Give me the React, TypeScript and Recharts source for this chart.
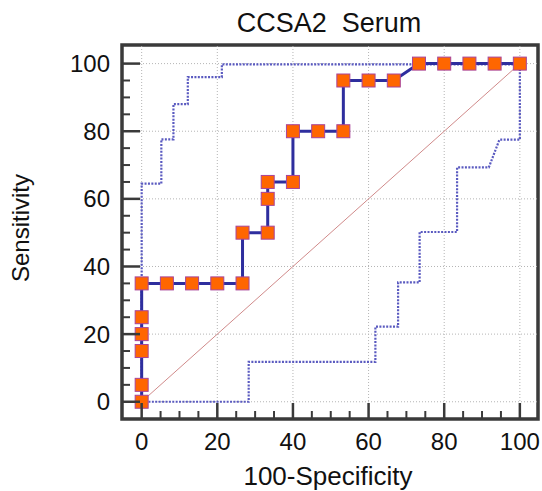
import React from "react";
import { LineChart, Line, XAxis, YAxis, ReferenceLine, ReferenceArea } from "recharts";

// page holds only the chart: drop the default body margin
document.body.style.margin = "0";

// ROC curve points (100-Specificity, Sensitivity)
const rocX = [0, 0, 0, 0, 0, 0, 6.67, 13.33, 20, 26.67, 26.67, 33.33, 33.33, 33.33, 40, 40, 46.67, 53.33, 53.33, 60, 66.67, 73.33, 80, 86.67, 93.33, 100];
const rocY = [0, 5, 15, 20, 25, 35, 35, 35, 35, 35, 50, 50, 60, 65, 65, 80, 80, 80, 95, 95, 95, 100, 100, 100, 100, 100];

// confidence bounds (dotted)
const upperX = [0, 0, 5.2, 5.2, 8.4, 8.4, 12.2, 12.2, 21.2, 21.2, 100];
const upperY = [0, 64.5, 64.5, 77.6, 77.6, 88, 88, 96, 96, 99.8, 99.8];
const lowerX = [0, 28.3, 28.3, 61.8, 61.8, 67.8, 67.8, 73.5, 73.5, 83.4, 83.4, 91.8, 94.6, 100, 100];
const lowerY = [0, 0, 11.8, 11.8, 22.2, 22.2, 35.3, 35.3, 50.2, 50.2, 69.3, 69.3, 77.5, 77.5, 100];

const diagX = [0, 100];
const diagY = [0, 100];

const ticks = [0, 5, 10, 15, 20, 25, 30, 35, 40, 45, 50, 55, 60, 65, 70, 75, 80, 85, 90, 95, 100];
const gridTicks = [0, 20, 40, 60, 80, 100];
const xDomain = [-5.2, 104.8];
const yDomain = [-5.1, 105.5];

const title = "CCSA2  Serum";
const xTitle = "100-Specificity";
const yTitle = "Sensitivity";

const toPoints = (xs: number[], ys: number[]) => xs.map((x, i) => ({ x, y: ys[i] }));

const FONT = "'Liberation Sans', Arial, sans-serif";
const FRAME = "#3a3a3a";

const XTick = (props: any) => {
  const { x, y, payload } = props;
  const v = payload.value;
  const major = v % 20 === 0;
  return (
    <g>
      <line x1={x} x2={x} y1={y} y2={y - (major ? 16 : 8)} stroke={FRAME} strokeWidth={major ? 2.5 : 2} />
      {major && (
        <text x={x} y={y + 31} textAnchor="middle" fontSize={24} fontFamily={FONT} fill="#111">
          {v}
        </text>
      )}
    </g>
  );
};

const YTick = (props: any) => {
  const { x, y, payload } = props;
  const v = payload.value;
  const major = v % 20 === 0;
  return (
    <g>
      <line x1={x} x2={x + (major ? 18 : 8)} y1={y} y2={y} stroke={FRAME} strokeWidth={major ? 2.5 : 2} />
      {major && (
        <text x={x - 12} y={y + 8.5} textAnchor="end" fontSize={24} fontFamily={FONT} fill="#111">
          {v}
        </text>
      )}
    </g>
  );
};

const SquareDot = (props: any) => {
  const { cx, cy, index } = props;
  return (
    <rect key={index} x={cx - 6.5} y={cy - 6.5} width={13} height={13} fill="#ff6600" stroke="#a8449a" strokeWidth={1} />
  );
};

export default function App() {
  const W = 542;
  const H = 491;
  return (
    <div style={{ position: "relative", width: W, height: H }}>
      <LineChart width={W} height={H} margin={{ top: 45, right: 4, left: 0, bottom: 0 }}>
        <XAxis
          type="number"
          dataKey="x"
          domain={xDomain}
          allowDataOverflow
          ticks={ticks}
          interval={0}
          tick={<XTick />}
          tickLine={false}
          tickSize={0}
          tickMargin={0}
          axisLine={false}
          height={72}
        />
        <YAxis
          type="number"
          dataKey="y"
          domain={yDomain}
          allowDataOverflow
          ticks={ticks}
          interval={0}
          tick={<YTick />}
          tickLine={false}
          tickSize={0}
          tickMargin={0}
          axisLine={false}
          width={122}
        />
        {gridTicks.map((v) => (
          <ReferenceLine key={"gx" + v} x={v} stroke="#b5b5b5" strokeDasharray="1 2" />
        ))}
        {gridTicks.map((v) => (
          <ReferenceLine key={"gy" + v} y={v} stroke="#b5b5b5" strokeDasharray="1 2" />
        ))}
        <Line data={toPoints(diagX, diagY)} dataKey="y" type="linear" stroke="#d08a8a" strokeWidth={1} dot={false} isAnimationActive={false} />
        <Line data={toPoints(upperX, upperY)} dataKey="y" type="linear" stroke="#5a5ac0" strokeWidth={2.2} strokeDasharray="2 1.4" dot={false} isAnimationActive={false} />
        <Line data={toPoints(lowerX, lowerY)} dataKey="y" type="linear" stroke="#5a5ac0" strokeWidth={2.2} strokeDasharray="2 1.4" dot={false} isAnimationActive={false} />
        <Line data={toPoints(rocX, rocY)} dataKey="y" type="linear" stroke="#2e2e9e" strokeWidth={3} dot={SquareDot} isAnimationActive={false} />
        <ReferenceArea x1={xDomain[0]} x2={xDomain[1]} y1={yDomain[0]} y2={yDomain[1]} fill="none" fillOpacity={0} stroke={FRAME} strokeWidth={3.5} />
      </LineChart>
      <svg width={W} height={H} style={{ position: "absolute", left: 0, top: 0, pointerEvents: "none" }}>
        <text x={329} y={32} textAnchor="middle" fontSize={27} fontFamily={FONT} fill="#111" style={{ whiteSpace: "pre" }}>
          {title}
        </text>
        <text x={328} y={485} textAnchor="middle" fontSize={26} fontFamily={FONT} fill="#111">
          {xTitle}
        </text>
        <text x={29} y={228} transform="rotate(-90 29 228)" textAnchor="middle" fontSize={24} fontFamily={FONT} fill="#111">
          {yTitle}
        </text>
      </svg>
    </div>
  );
}
